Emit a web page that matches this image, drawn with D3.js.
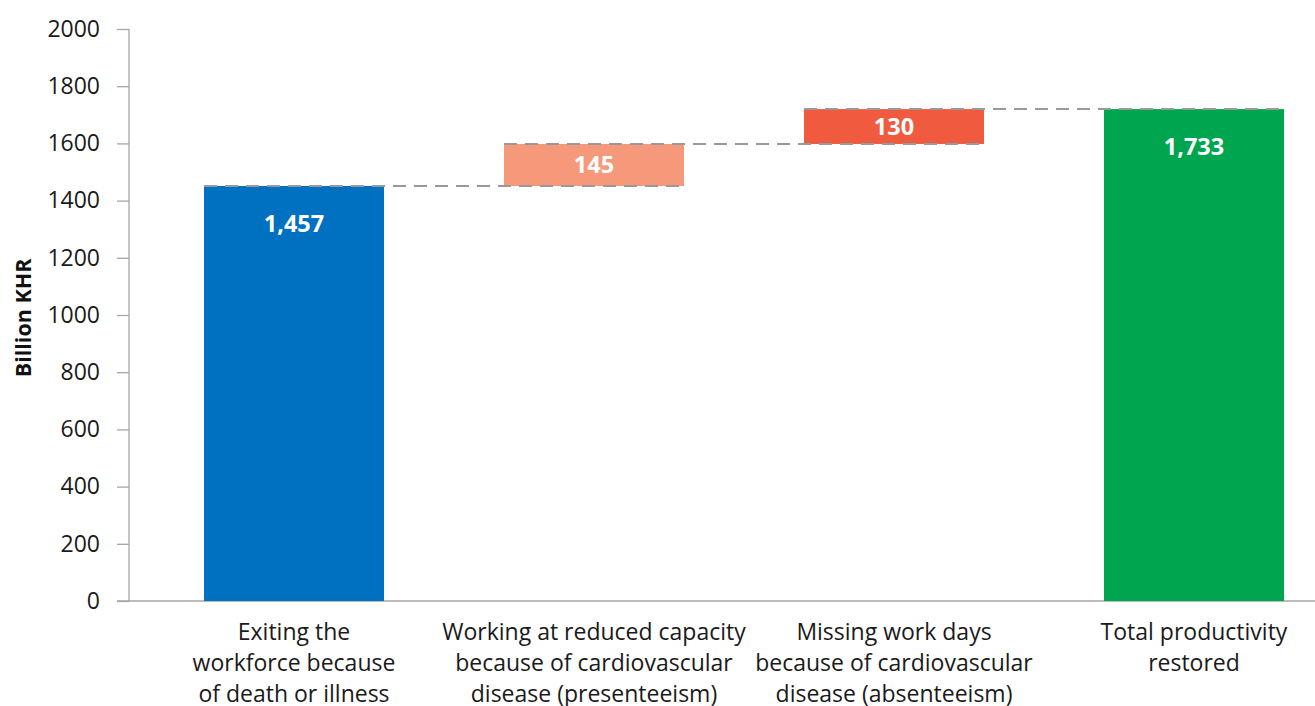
<!DOCTYPE html>
<html><head><meta charset="utf-8">
<script src="https://cdn.jsdelivr.net/npm/d3@7"></script>
<style>body{margin:0;background:#fff}svg{display:block}</style>
</head><body>
<svg id="c" width="1315" height="706"></svg>
<script>
const categories = [
  ["Exiting the","workforce because","of death or illness"],
  ["Working at reduced capacity","because of cardiovascular","disease (presenteeism)"],
  ["Missing work days","because of cardiovascular","disease (absenteeism)"],
  ["Total productivity","restored"]
];
const barStart = [0, 1451, 1598, 0];
const barEnd = [1451, 1598, 1720, 1720];
const valueLabels = ["1,457", "145", "130", "1,733"];
const barColors = ["#0070C0", "#F6987A", "#F05B3F", "#00A550"];
const yTicks = [0,200,400,600,800,1000,1200,1400,1600,1800,2000];

const svg = d3.select("#c");
const font = "'Open Sans', 'Noto Sans', sans-serif";
const y = d3.scaleLinear().domain([0,2000]).range([601,29]);
const x = d3.scaleBand().domain(d3.range(4)).range([144,1344]).paddingInner(0.4).paddingOuter(0.2);

// y axis
const yAxis = d3.axisLeft(y).tickValues(yTicks).tickSize(12).tickPadding(17).tickFormat(d3.format("d"));
const ga = svg.append("g").attr("transform","translate(129,0)").call(yAxis);
ga.select(".domain").attr("stroke","#a6a6a6").attr("stroke-width",1.3).attr("d","M0,29V601");
ga.selectAll(".tick line").attr("stroke","#a6a6a6").attr("stroke-width",1.3);
ga.selectAll(".tick text").attr("font-family",font).attr("font-size",23).attr("fill","#1a1a1a");

// x axis line
svg.append("line").attr("x1",117).attr("x2",1315).attr("y1",y(0)).attr("y2",y(0))
  .attr("stroke","#a6a6a6").attr("stroke-width",1.5);

// bars
const idx = d3.range(4);
svg.selectAll("rect.bar").data(idx).join("rect").attr("class","bar")
  .attr("x", i => x(i)).attr("width", x.bandwidth())
  .attr("y", i => y(barEnd[i])).attr("height", i => y(barStart[i]) - y(barEnd[i]))
  .attr("fill", i => barColors[i]);

// connectors
for (let i = 0; i < 3; i++) {
  svg.append("line")
    .attr("x1", x(i)).attr("x2", x(i+1) + x.bandwidth())
    .attr("y1", y(barEnd[i])).attr("y2", y(barEnd[i]))
    .attr("stroke","#999").attr("stroke-width",2).attr("stroke-dasharray","13,8");
}

// value labels
svg.selectAll("text.val").data(idx).join("text").attr("class","val")
  .attr("x", i => x(i) + x.bandwidth()/2)
  .attr("y", i => i === 1 || i === 2 ? (y(barStart[i]) + y(barEnd[i]))/2 + 8 : y(barEnd[i]) + 46)
  .attr("text-anchor","middle").attr("font-family",font).attr("font-weight","bold")
  .attr("font-size",23.5).attr("fill","#fff").text(i => valueLabels[i]);

// category labels
idx.forEach(i => {
  const t = svg.append("text").attr("text-anchor","middle").attr("font-family",font)
    .attr("font-size",23).attr("fill","#1a1a1a");
  categories[i].forEach((line, k) => {
    t.append("tspan").attr("x", x(i) + x.bandwidth()/2).attr("y", 640 + k*31).text(line);
  });
});

// y title
svg.append("text").attr("transform","translate(31,318) rotate(-90)").attr("text-anchor","middle")
  .attr("font-family",font).attr("font-weight","bold").attr("font-size",21.5).attr("fill","#111")
  .text("Billion KHR");
</script>
</body></html>
